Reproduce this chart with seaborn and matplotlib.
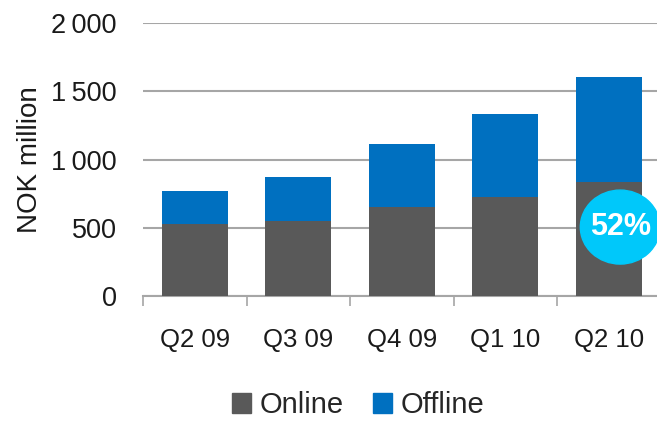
import matplotlib
matplotlib.use("Agg")

import matplotlib.pyplot as plt
import pandas as pd
import seaborn as sns
from matplotlib.patches import Ellipse, Patch


quarters = ["Q2 09", "Q3 09", "Q4 09", "Q1 10", "Q2 10"]
online = [527, 552, 652, 723, 837]
offline = [244, 322, 461, 608, 765]
y_ticks = [0, 500, 1000, 1500, 2000]
y_tick_labels = ["0", "500", "1\u2009000", "1\u2009500", "2\u2009000"]
share_label = "52%"

ONLINE_COLOR = "#595959"
OFFLINE_COLOR = "#0070C0"
GRID_COLOR = "#A6A6A6"

df = pd.DataFrame({"Quarter": quarters, "Online": online, "Offline": offline})
df["Total"] = df["Online"] + df["Offline"]

sns.set_theme(style="white")
plt.rcParams["font.family"] = ["Liberation Sans", "DejaVu Sans"]

fig = plt.figure(figsize=(6.57, 4.23), dpi=100)
ax = fig.add_axes([0.2177, 0.3002, 0.7877, 0.6454])

sns.barplot(data=df, x="Quarter", y="Total", color=OFFLINE_COLOR,
            width=0.64, saturation=1, linewidth=0, ax=ax, zorder=3)
sns.barplot(data=df, x="Quarter", y="Online", color=ONLINE_COLOR,
            width=0.64, saturation=1, linewidth=0, ax=ax, zorder=3)

ax.set_xlim(-0.5, len(quarters) - 0.5)
ax.set_ylim(0, 2000)
ax.set_yticks(y_ticks)
ax.set_yticklabels(y_tick_labels, fontsize=19.5, color="#1a1a1a")
ax.yaxis.grid(True, color=GRID_COLOR, linewidth=1.5, zorder=0)
ax.set_axisbelow(True)
ax.tick_params(axis="y", length=0, pad=19)

ax.set_xticks(range(len(quarters)))
ax.set_xticklabels(quarters, fontsize=18.5, color="#1a1a1a")
ax.set_xticks([i - 0.5 for i in range(len(quarters) + 1)], minor=True)
ax.tick_params(axis="x", which="major", length=0, pad=23)
ax.tick_params(axis="x", which="minor", length=7, width=1.2,
               color=GRID_COLOR, bottom=True)

ax.set_xlabel("")
ax.set_ylabel("NOK million", fontsize=20, labelpad=6, color="#1a1a1a")

for side in ["top", "right", "left"]:
    ax.spines[side].set_visible(False)
ax.spines["bottom"].set_color(GRID_COLOR)
ax.spines["bottom"].set_linewidth(1.5)

# highlight bubble on the last quarter
bubble = Ellipse((4.11, 505), width=0.77, height=542, color="#00C8FA",
                 zorder=5, clip_on=False)
ax.add_patch(bubble)
ax.text(4.11, 505, share_label, color="white", fontsize=22,
        fontweight="bold", ha="center", va="center", zorder=6)

handles = [Patch(color=ONLINE_COLOR, label="Online"),
           Patch(color=OFFLINE_COLOR, label="Offline")]
fig.legend(handles=handles, loc="center", bbox_to_anchor=(0.545, 0.042),
           ncol=2, frameon=False, fontsize=21, handlelength=0.65,
           handleheight=0.65, handletextpad=0.3, columnspacing=1.0,
           borderpad=0.1)

fig.savefig("out.png", dpi=100)
